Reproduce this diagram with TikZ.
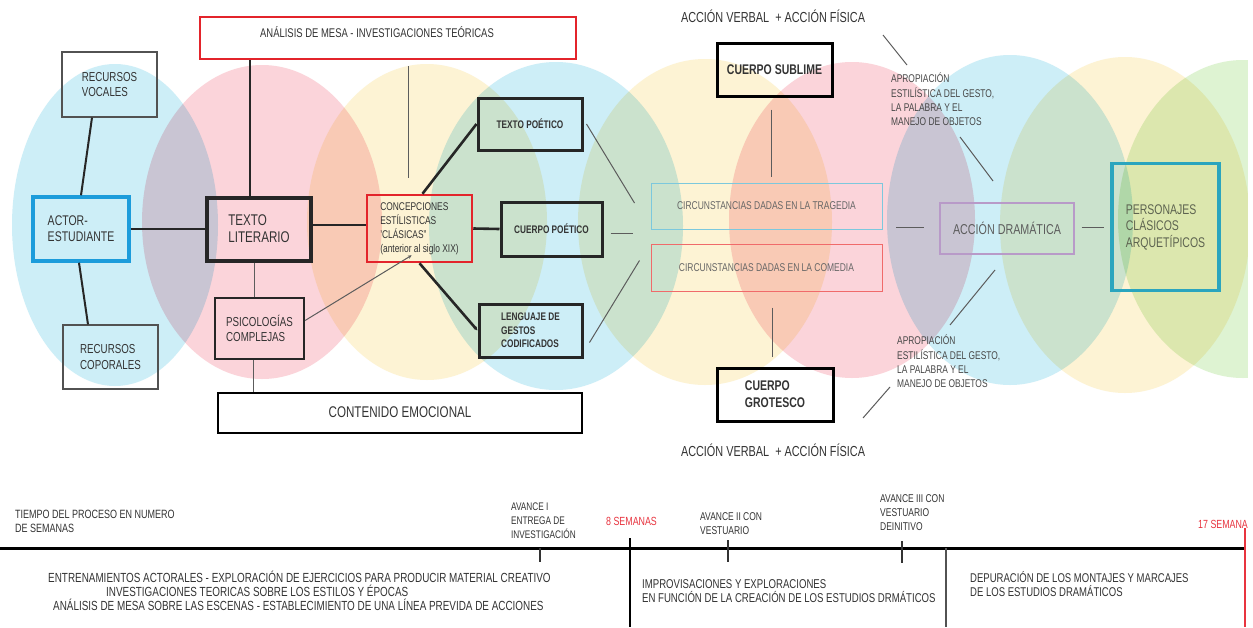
\documentclass[tikz,border=0pt]{standalone}
\usepackage{fontspec}
\setmainfont{Liberation Sans}[FakeStretch=0.75]
\usetikzlibrary{calc,arrows.meta}
\definecolor{ink}{HTML}{333333}
\definecolor{dark}{HTML}{262626}
\definecolor{boxred}{HTML}{E3242B}
\definecolor{actblue}{HTML}{1C9CDB}
\definecolor{tealbox}{HTML}{2AA5BE}
\definecolor{tragblue}{HTML}{7CC8DD}
\definecolor{comred}{HTML}{F06A6A}
\definecolor{lav}{HTML}{B89AC8}
\definecolor{redtxt}{HTML}{E8343F}
\definecolor{olivetxt}{HTML}{5D6350}
\definecolor{cBlue}{HTML}{CDEEF7}
\definecolor{cPink}{HTML}{FBD4DA}
\definecolor{cYellow}{HTML}{FDF3D4}
\definecolor{cGreen}{HTML}{DEF3D2}
\newcommand\fz[2]{\fontsize{#1}{#2}\selectfont}
\begin{document}
\begin{tikzpicture}[x=1pt,y=-1pt,
  box/.style={rectangle, draw, inner sep=0pt, align=left, text=ink},
  link/.style={line width=2pt, draw=dark},
  heavylink/.style={line width=2.6pt, draw=dark},
  thinlink/.style={line width=1pt, draw=ink!80},
  tl/.style={anchor=west, align=left, inner sep=0pt, text=ink},
  tick/.style={line width=1.2pt, draw=ink},
  tip/.style={-{Stealth[length=4pt,width=3.5pt]}}]
\useasboundingbox (0,0) rectangle (1253,627);
\fill[white] (0,0) rectangle (1253,627);

% overlapping coloured ellipses behind the map
\begin{scope}
\clip (0,0) rectangle (1247,627);
\begin{scope}[blend group=multiply]
  \fill[cBlue]   (115,225)  ellipse [x radius=103pt, y radius=161pt];
  \fill[cPink]   (262,222)  ellipse [x radius=120pt, y radius=157pt];
  \fill[cYellow] (427,222)  ellipse [x radius=120pt, y radius=158pt];
  \fill[cBlue]   (556,226)  ellipse [x radius=127pt, y radius=164pt];
  \fill[cYellow] (705,222)  ellipse [x radius=127pt, y radius=163pt];
  \fill[cPink]   (852,220)  ellipse [x radius=123pt, y radius=158pt];
  \fill[cBlue]   (1010,220) ellipse [x radius=123pt, y radius=165pt];
  \fill[cYellow] (1125,225) ellipse [x radius=125pt, y radius=168pt];
  \fill[cGreen]  (1243,219) ellipse [x radius=125pt, y radius=159pt];
\end{scope}
\end{scope}

% boxes
\node[box, draw=boxred, line width=2pt, minimum width=376pt, minimum height=42pt,
      text height=8pt, text depth=9.6pt, font=\fz{12.6}{14}] (ana) at (388,38)
      {ANÁLISIS DE MESA - INVESTIGACIONES TEÓRICAS\hspace*{22pt}};
\node[box, draw=ink!85, line width=1.2pt, minimum width=95pt, minimum height=65pt,
      font=\fz{13}{15}] (vocales) at (109.5,84.5) {RECURSOS\\VOCALES};
\node[box, draw=actblue, line width=3.5pt, minimum width=96pt, minimum height=64pt,
      font=\fz{14}{16}] (actor) at (81,229) {ACTOR-\\ESTUDIANTE};
\node[box, draw=ink!85, line width=1.2pt, minimum width=95pt, minimum height=64pt,
      font=\fz{13}{16}] (coporales) at (110.5,357) {RECURSOS\\COPORALES};
\node[box, draw=dark, line width=4pt, minimum width=104pt, minimum height=63pt,
      font=\fz{15.5}{17}] (texto) at (259,229) {TEXTO\\LITERARIO};
\node[box, draw=dark, line width=2.2pt, minimum width=89pt, minimum height=61pt,
      font=\fz{13}{15}] (psico) at (259.5,328.5) {PSICOLOGÍAS\\COMPLEJAS};
\node[box, draw=black, line width=2pt, minimum width=364pt, minimum height=40pt,
      font=\fz{15.5}{17}] (contenido) at (400,412.5) {CONTENIDO EMOCIONAL};
\node[box, draw=boxred, line width=2.5pt, minimum width=105pt, minimum height=67pt,
      font=\fz{11.2}{14}] (concep) at (419.5,228.5)
      {CONCEPCIONES\\ESTÍLISTICAS\\'CLÁSICAS"\\(anterior al siglo XIX)};
\node[box, draw=dark, line width=3pt, minimum width=104pt, minimum height=52pt,
      font=\bfseries\fz{11}{13}] (tpoet) at (530,124) {TEXTO POÉTICO};
\node[box, draw=dark, line width=3pt, minimum width=101pt, minimum height=54pt,
      font=\bfseries\fz{11}{13}] (cpoet) at (551.5,229) {CUERPO POÉTICO};
\node[box, draw=dark, line width=3pt, minimum width=103pt, minimum height=53pt,
      font=\bfseries\fz{11}{13.5}] (lenguaje) at (530.5,330.5) {LENGUAJE DE\\GESTOS\\CODIFICADOS};
\node[box, draw=tragblue, line width=1pt, minimum width=231pt, minimum height=46pt,
      text=ink!75, font=\fz{11.3}{13}] (trag) at (766.5,206) {CIRCUNSTANCIAS DADAS EN LA TRAGEDIA};
\node[box, draw=comred, line width=1pt, minimum width=231pt, minimum height=47pt,
      text=ink!75, font=\fz{11.3}{13}] (com) at (766.5,267.5) {CIRCUNSTANCIAS DADAS EN LA COMEDIA};
\node[box, draw=black, line width=3pt, minimum width=115pt, minimum height=53pt,
      font=\bfseries\fz{14}{17}] (sublime) at (774.5,69.5) {CUERPO SUBLIME};
\node[box, draw=black, line width=3pt, minimum width=116pt, minimum height=53pt,
      font=\bfseries\fz{14}{17}] (grotesco) at (775,394.5) {CUERPO\\GROTESCO};
\node[box, draw=lav, line width=1.2pt, minimum width=134pt, minimum height=51pt,
      text=ink!80, font=\fz{14.3}{17}] (accion) at (1007,228.5) {ACCIÓN DRAMÁTICA};
\node[box, draw=tealbox, line width=3.5pt, minimum width=107pt, minimum height=127pt,
      text=olivetxt, font=\fz{14}{16.5}] (pers) at (1165.5,227) {PERSONAJES\\CLÁSICOS\\ARQUETÍPICOS};

% free labels
\node[text=ink, font=\fz{14.5}{17}] (verbTop) at (773,16) {ACCIÓN VERBAL~~+ ACCIÓN FÍSICA};
\node[text=ink, font=\fz{14.5}{17}] (verbBot) at (773,450) {ACCIÓN VERBAL~~+ ACCIÓN FÍSICA};
\node[tl, text=ink!90, font=\fz{11.2}{14.3}] (apro1) at (891,99.5)
      {APROPIACIÓN\\ESTILÍSTICA DEL GESTO,\\LA PALABRA Y EL\\MANEJO DE OBJETOS};
\node[tl, text=ink!90, font=\fz{11.2}{14.3}] (apro2) at (897,361.5)
      {APROPIACIÓN\\ESTILÍSTICA DEL GESTO,\\LA PALABRA Y EL\\MANEJO DE OBJETOS};

% connectors
\draw[link] ([xshift=-17.5pt]vocales.south) -- (actor.north);
\draw[link] ([xshift=-2pt]actor.south) -- ([xshift=-22.5pt]coporales.north);
\draw[link] (actor.east) -- (texto.west);
\draw[link] ([xshift=-9pt]texto.north) -- ([xshift=-9pt]texto.north |- ana.south);
\draw[link] ([yshift=4pt]texto.east) -- ([yshift=4pt]texto.east -| concep.west);
\draw[thinlink] ([xshift=-5pt]texto.south) -- ([xshift=-5pt]texto.south |- psico.north);
\draw[thinlink] ([xshift=-6pt]psico.south) -- ([xshift=-6pt]psico.south |- contenido.north);
\draw[thinlink, tip] ([yshift=8pt]psico.east) -- ($(concep.south west)+(46,-8)$);
\draw[thinlink] ($(ana.south)+(20,6)$) -- ($(concep.north)+(-11.5,-16)$);
\draw[heavylink] ([xshift=3pt]concep.north) -- (tpoet.west);
\draw[heavylink] (concep.east) -- (cpoet.west);
\draw[heavylink, tip] (concep.south) -- (lenguaje.west);
\draw[thinlink] ([xshift=3pt]tpoet.east) -- ($(trag.west)+(-16,-3)$);
\draw[thinlink] ($(cpoet.east)+(7,4)$) -- ($(trag.west)+(-18,27)$);
\draw[thinlink] ($(lenguaje.east)+(6,12)$) -- ($(com.west)+(-11,-7)$);
\draw[thinlink] ($(sublime.south)+(-3.5,12)$) -- ($(trag.north)+(4.5,-6)$);
\draw[thinlink] ($(com.south)+(5.5,16)$) -- ($(grotesco.north)+(-3,-10)$);
\draw[thinlink] ($(accion.west)+(-43,-1.5)$) -- ($(accion.west)+(-15,-1.5)$);
\draw[thinlink] ($(accion.east)+(7,-1.5)$) -- ($(pers.west)+(-6,0)$);

\coordinate (a1) at (883,35);  \coordinate (a2) at (907,65);
\coordinate (a3) at (960,137); \coordinate (a4) at (993,181);
\coordinate (a5) at (995,270); \coordinate (a6) at (950,325);
\coordinate (a7) at (890,387); \coordinate (a8) at (863,418);
\draw[thinlink] (a1) -- (a2);
\draw[thinlink] (a3) -- (a4);
\draw[thinlink] (a5) -- (a6);
\draw[thinlink] (a7) -- (a8);

% timeline
\coordinate (t0) at (0,548);    \coordinate (t1) at (1245,548);
\draw[line width=3pt, draw=black] (t0) -- (t1);
\coordinate (k1a) at (540,548); \coordinate (k1b) at (540,562);
\coordinate (k2a) at (728,540); \coordinate (k2b) at (728,562);
\coordinate (k3a) at (902,541); \coordinate (k3b) at (902,563);
\coordinate (w8a) at (630,538); \coordinate (w8b) at (630,627);
\coordinate (wma) at (946,548); \coordinate (wmb) at (946,627);
\coordinate (w17a) at (1245,528); \coordinate (w17b) at (1245,627);
\draw[tick] (k1a) -- (k1b);
\draw[tick] (k2a) -- (k2b);
\draw[tick] (k3a) -- (k3b);
\draw[line width=2pt, draw=black] (w8a) -- (w8b);
\draw[line width=1.5pt, draw=ink!85] (wma) -- (wmb);
\draw[line width=1.5pt, draw=redtxt] (w17a) -- (w17b);

\node[tl, font=\fz{12}{14}] (tiempo) at (15,521) {TIEMPO DEL PROCESO EN NUMERO\\DE SEMANAS};
\node[tl, font=\fz{11}{14}] (av1) at (511,521) {AVANCE I\\ENTREGA DE\\INVESTIGACIÓN};
\node[tl, text=redtxt, font=\fz{11.8}{14}] (s8) at (606,521) {8 SEMANAS};
\node[tl, font=\fz{11.3}{14}] (av2) at (700,524) {AVANCE II CON\\VESTUARIO};
\node[tl, font=\fz{11.3}{14}] (av3) at (880,513) {AVANCE III CON\\VESTUARIO\\DEINITIVO};
\node[tl, text=redtxt, font=\fz{11.8}{14}] (s17) at (1198,524) {17 SEMANA};
\node[tl, font=\fz{13.2}{14}] (fase1) at (48,591)
  {ENTRENAMIENTOS ACTORALES - EXPLORACIÓN DE EJERCICIOS PARA PRODUCIR MATERIAL CREATIVO\\
   \hspace*{58pt}INVESTIGACIONES TEORICAS SOBRE LOS ESTILOS Y ÉPOCAS\\
   \hspace*{5pt}ANÁLISIS DE MESA SOBRE LAS ESCENAS - ESTABLECIMIENTO DE UNA LÍNEA PREVIDA DE ACCIONES};
\node[tl, font=\fz{12.8}{14}] (fase2) at (642,591)
  {IMPROVISACIONES Y EXPLORACIONES\\EN FUNCIÓN DE LA CREACIÓN DE LOS ESTUDIOS DRMÁTICOS};
\node[tl, font=\fz{12.7}{14}] (fase3) at (970,584)
  {DEPURACIÓN DE LOS MONTAJES Y MARCAJES\\DE LOS ESTUDIOS DRAMÁTICOS};
\end{tikzpicture}
\end{document}
